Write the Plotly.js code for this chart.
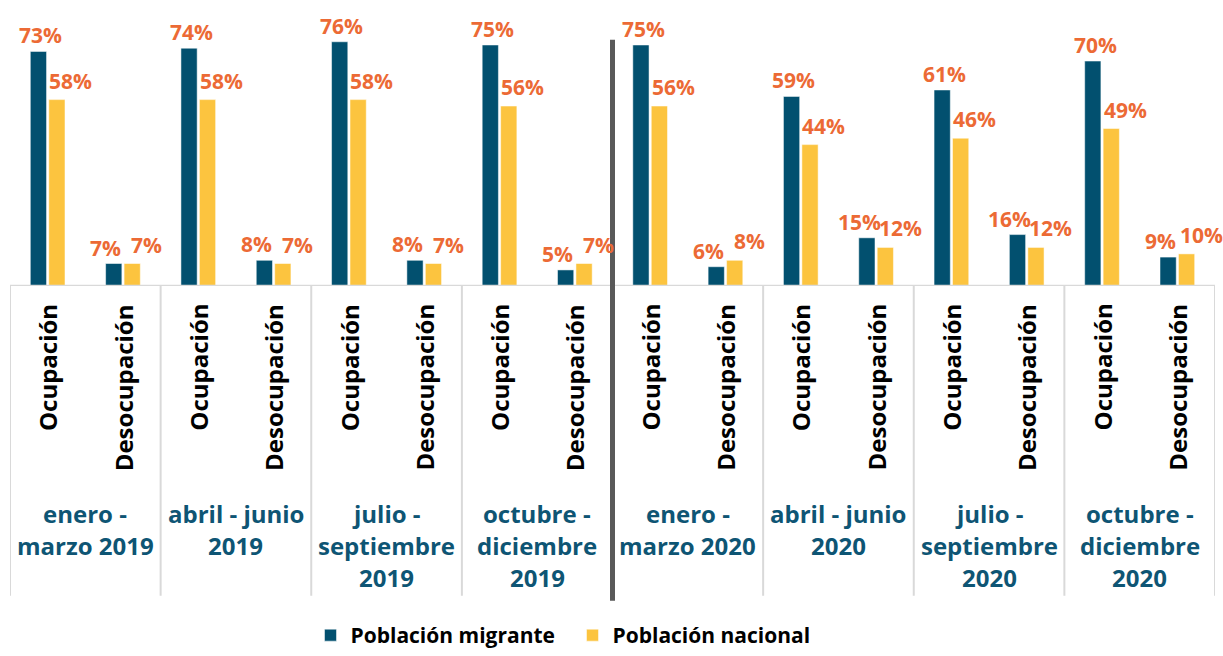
<!DOCTYPE html>
<html>
<head>
<meta charset="utf-8">
<script src="https://cdn.plot.ly/plotly-3.0.1.min.js"></script>
<style>html,body{margin:0;padding:0;background:#fff;}#chart{width:1223px;height:656px;}</style>
</head>
<body>
<div id="chart"></div>
<script>
// ---- data ----
const periods = [
  ["enero -", "marzo 2019"],
  ["abril - junio", "2019"],
  ["julio -", "septiembre", "2019"],
  ["octubre -", "diciembre", "2019"],
  ["enero -", "marzo 2020"],
  ["abril - junio", "2020"],
  ["julio -", "septiembre", "2020"],
  ["octubre -", "diciembre", "2020"]
];
const types = ["Ocupación", "Desocupación"];
const seriesNames = ["Población migrante", "Población nacional"];
const migrante = [73, 7, 74, 8, 76, 8, 75, 5, 75, 6, 59, 15, 61, 16, 70, 9];
const nacional = [58, 7, 58, 7, 58, 7, 56, 7, 56, 8, 44, 12, 46, 12, 49, 10];

// ---- build ----
const cats = [];
periods.forEach((p, i) => types.forEach(t => cats.push(p.join(" ") + " | " + t)));

const FONT = "Open Sans, Noto Sans, sans-serif";
const cMig = "#02506F", cNac = "#FCC43F", cLab = "#EC6A35", cPer = "#0E5574";
const plotTop = 0, plotBottom = 288, plotH = plotBottom - plotTop;
const py = px => (plotBottom - px) / plotH; // pixel row -> paper y
const migShift = [-7, -17];   // label offset by type (Ocupación, Desocupación)
const nacShift = [23, 24];

const traces = [
  {type: "bar", name: seriesNames[0], x: cats, y: migrante,
   marker: {color: cMig, line: {color: "rgba(255,255,255,0.5)", width: 1}}, hoverinfo: "skip"},
  {type: "bar", name: seriesNames[1], x: cats, y: nacional,
   marker: {color: cNac, line: {color: "rgba(255,255,255,0.5)", width: 1}}, hoverinfo: "skip"}
];

const annotations = [];
cats.forEach((c, i) => {
  annotations.push({x: c, y: migrante[i], xref: "x", yref: "y", text: migrante[i] + "%",
    showarrow: false, xanchor: "center", yanchor: "bottom", xshift: migShift[i % 2], yshift: 0,
    font: {family: FONT, size: 21, color: cLab, weight: 700}});
  annotations.push({x: c, y: nacional[i], xref: "x", yref: "y", text: nacional[i] + "%",
    showarrow: false, xanchor: "center", yanchor: "bottom", xshift: nacShift[i % 2], yshift: 3,
    font: {family: FONT, size: 21, color: cLab, weight: 700}});
  annotations.push({x: c, y: py(304), xref: "x", yref: "paper", text: types[i % 2],
    showarrow: false, textangle: -90, xanchor: "center", yanchor: "top",
    font: {family: FONT, size: 24, color: "#000", weight: 700}});
});
periods.forEach((lines, g) => {
  lines.forEach((ln, k) => {
    annotations.push({x: 2 * g + 0.5, y: py(517 + 32.5 * k), xref: "x", yref: "paper", text: ln,
      showarrow: false, xanchor: "center", yanchor: "middle",
      font: {family: FONT, size: 24, color: cPer, weight: 700}});
  });
});

const shapes = [];
shapes.push({type: "line", xref: "x", yref: "y", x0: -0.5, x1: cats.length - 0.5, y0: 0, y1: 0,
  line: {color: "#D9D9D9", width: 2.5}});
for (let g = 0; g <= periods.length; g++) {
  if (g === periods.length / 2) continue;
  shapes.push({type: "line", xref: "x", yref: "paper", x0: 2 * g - 0.5, x1: 2 * g - 0.5,
    y0: 0, y1: py(600), line: {color: "#D9D9D9", width: 2}});
}
shapes.push({type: "line", xref: "x", yref: "paper", x0: periods.length - 0.5, x1: periods.length - 0.5,
  y0: py(40), y1: py(605), line: {color: "#595959", width: 5}});

const layout = {
  width: 1223, height: 656,
  margin: {l: 10, r: 8, t: plotTop, b: 656 - plotBottom, pad: 0},
  paper_bgcolor: "#fff", plot_bgcolor: "#fff",
  barmode: "group", bargap: 0.51, bargroupgap: 0.12,
  xaxis: {type: "category", range: [-0.5, cats.length - 0.5], showticklabels: false,
    showgrid: false, zeroline: false, showline: false, ticks: ""},
  yaxis: {range: [0, 89], showticklabels: false, showgrid: false, zeroline: false, showline: false, ticks: ""},
  showlegend: true,
  legend: {orientation: "h", x: 0.5 - 40 / 1205, xanchor: "center", y: py(641), yanchor: "middle",
    entrywidth: 217, entrywidthmode: "pixels",
    font: {family: FONT, size: 21, color: "#000", weight: 700}, itemclick: false, traceorder: "normal"},
  annotations: annotations,
  shapes: shapes
};

Plotly.newPlot("chart", traces, layout, {staticPlot: true, displayModeBar: false});
</script>
</body>
</html>
